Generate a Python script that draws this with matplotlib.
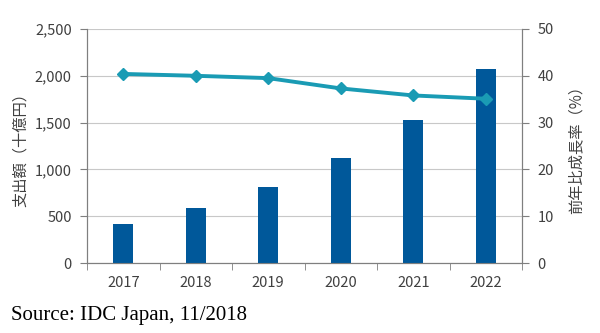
import numpy as np
import matplotlib.pyplot as plt
from matplotlib.ticker import FuncFormatter

plt.rcParams['font.family'] = ['Noto Sans CJK JP', 'DejaVu Sans']

years = ['2017', '2018', '2019', '2020', '2021', '2022']
spending = [415, 585, 815, 1125, 1528, 2069]     # 十億円
growth = [40.4, 40.0, 39.5, 37.3, 35.8, 35.1]    # %

bar_color = '#00589A'
line_color = '#1A9BB4'
axis_color = '#7f7f7f'
text_color = '#404040'

fig = plt.figure(figsize=(6, 3.33), dpi=100)
ax = fig.add_axes([0.145, 0.21, 0.725, 0.703])
x = np.arange(len(years))

ax.bar(x, spending, width=0.28, color=bar_color, zorder=3)
ax.set_ylim(0, 2500)
ax.set_xlim(-0.5, len(years) - 0.5)
ax.set_yticks(np.arange(0, 2501, 500))
ax.yaxis.set_major_formatter(FuncFormatter(lambda v, p: f'{int(v):,}'))
ax.grid(axis='y', color='#c8c8c8', linewidth=0.8, zorder=0)
ax.set_xticks(x)
ax.set_xticklabels(years)
ax.set_xticks(np.arange(-0.5, len(years)), minor=True)
ax.tick_params(axis='x', which='major', length=0, pad=9, labelsize=10.5, colors=text_color)
ax.tick_params(axis='x', which='minor', length=5, color=axis_color)
ax.tick_params(axis='y', length=5, color=axis_color, labelsize=10.5, colors=text_color, pad=6)
ax.set_ylabel('支出額（十億円）', fontsize=11, color=text_color, labelpad=4)

for s in ['left', 'bottom', 'right']:
    ax.spines[s].set_color(axis_color)
ax.spines['top'].set_visible(False)

ax2 = ax.twinx()
ax2.plot(x, growth, color=line_color, linewidth=2.8, marker='D', markersize=6.5, zorder=4)
ax2.set_ylim(0, 50)
ax2.set_yticks(np.arange(0, 51, 10))
ax2.tick_params(axis='y', length=5, color=axis_color, labelsize=10.5, colors=text_color, pad=6)
ax2.set_ylabel('前年比成長率（%）', fontsize=11, color=text_color, labelpad=10)
for s in ['left', 'bottom', 'right']:
    ax2.spines[s].set_color(axis_color)
ax2.spines['top'].set_visible(False)

fig.text(0.018, 0.04, 'Source: IDC Japan, 11/2018', fontsize=15,
         family='Liberation Serif', color='black')

fig.savefig('out.png', dpi=100)
